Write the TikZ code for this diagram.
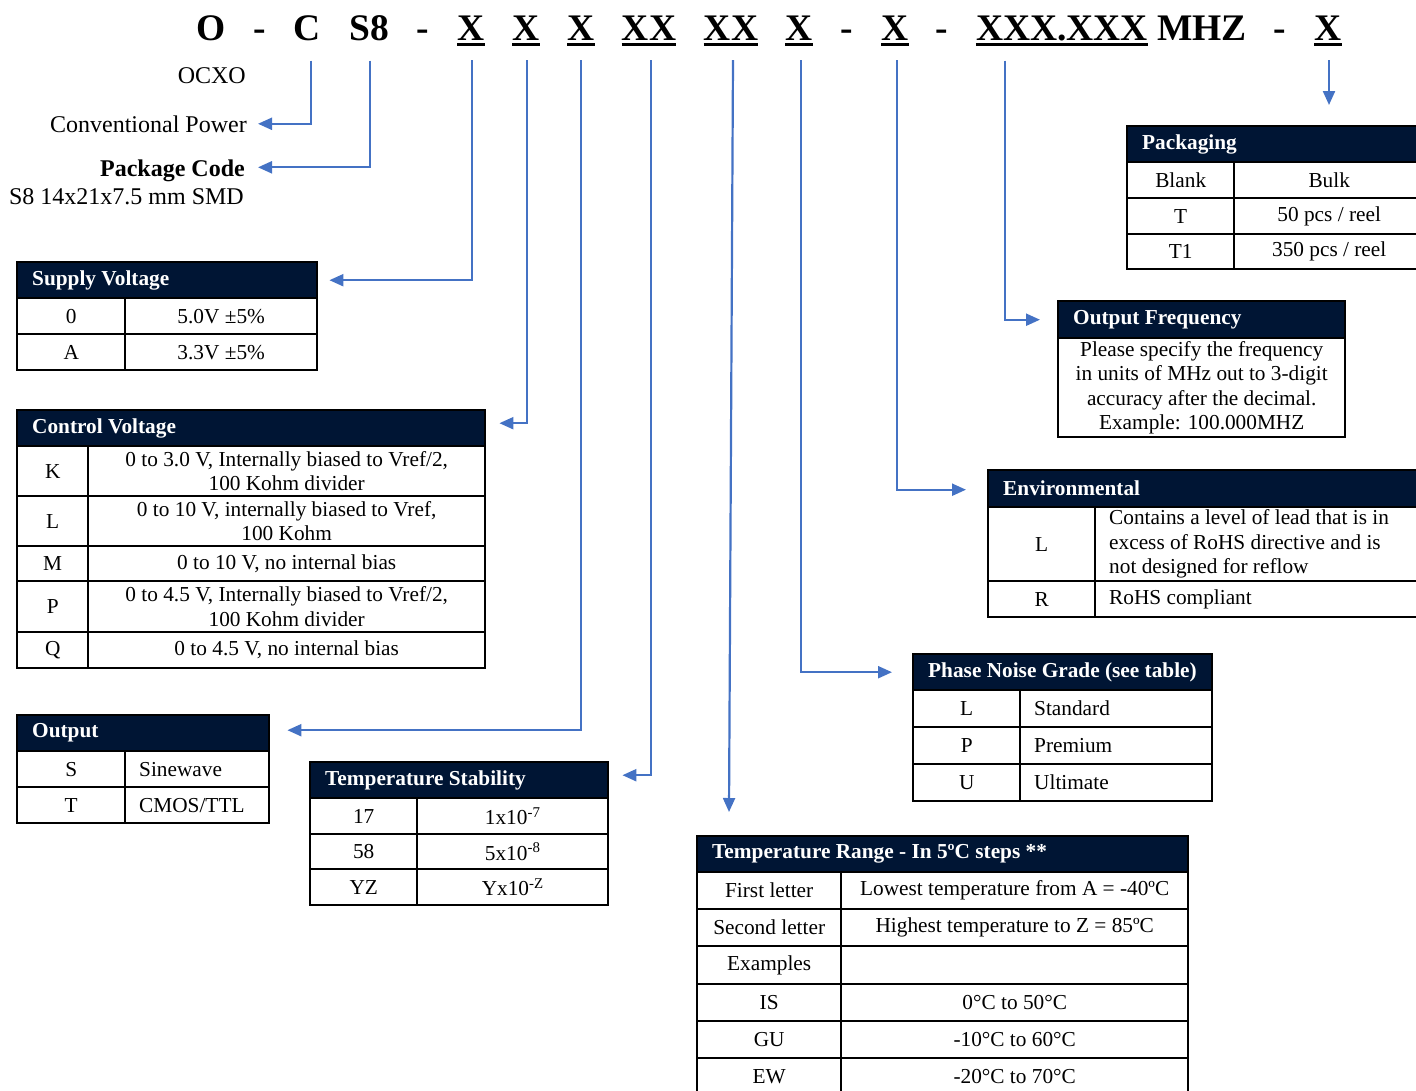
\documentclass[tikz,border=0pt]{standalone}
\usepackage{fontspec}
\setmainfont{Liberation Serif}
\usetikzlibrary{arrows.meta}
\definecolor{headnavy}{RGB}{0,21,52}
\definecolor{linkblue}{RGB}{68,114,196}
\newcommand{\titlefont}{\fontsize{37.5pt}{40pt}\selectfont\bfseries}
\newcommand{\labelfont}{\fontsize{24pt}{28pt}\selectfont}
\newcommand{\hdrfont}{\fontsize{21.3pt}{24pt}\selectfont\bfseries}
\newcommand{\bodyfont}{\fontsize{21.3pt}{24.5pt}\selectfont}

\begin{document}
\begin{tikzpicture}[
    x=1pt, y=-1pt,
    code/.style={font=\titlefont, inner sep=0pt, anchor=base},
    uline/.style={line width=3pt},
    lbl/.style={font=\labelfont, inner sep=0pt, anchor=base east},
    hdr/.style={draw, line width=2.4pt, fill=headnavy, text=white, font=\hdrfont, anchor=north west,
        minimum height=36pt, inner xsep=15pt, inner ysep=0pt, text width=#1, align=flush left},
    cell/.style 2 args={draw, line width=2.4pt, font=\bodyfont, anchor=north west, inner sep=0pt,
        minimum width=#1, minimum height=#2, align=center},
    lcell/.style 2 args={draw, line width=2.4pt, font=\bodyfont, anchor=north west, inner xsep=14pt,
        inner ysep=0pt, text width=#1, minimum height=#2, align=flush left},
    conn/.style={draw=linkblue, line width=2.2pt, -{Triangle[length=14pt,width=12pt]}}
]
    \useasboundingbox (0,0) rectangle (1416,1090);
    \clip (0,0) rectangle (1416,1090);

    % Part number
    \node[code] (tO) at (211,40) {O};
    \node[code] (tD1) at (260,40) {-};
    \node[code] (tC) at (307,40) {C};
    \node[code] (tS8) at (369,40) {S8};
    \node[code] (tD2) at (423,40) {-};
    \node[code] (tV) at (471,40) {X};
    \node[code] (tCV) at (526,40) {X};
    \node[code] (tOut) at (581,40) {X};
    \node[code] (tStab) at (649,40) {XX};
    \node[code] (tRange) at (731,40) {XX};
    \node[code] (tPN) at (799,40) {X};
    \node[code] (tD3) at (847,40) {-};
    \node[code] (tEnv) at (895,40) {X};
    \node[code] (tD4) at (942,40) {-};
    \node[code] (tFreq) at (1062,40) {XXX.XXX};
    \node[code] (tMHZ) at (1202,40) {MHZ};
    \node[code] (tD5) at (1280,40) {-};
    \node[code] (tPack) at (1328,40) {X};

    % Underlines
    \foreach \n in {tV, tCV, tOut, tStab, tRange, tPN, tEnv, tFreq, tPack}
        \draw[uline] ([yshift=-4.5pt]\n.base west) -- ([yshift=-4.5pt]\n.base east);

    % Left labels
    \node[lbl] (ocxo) at (246,83) {OCXO};
    \node[lbl] (conv) at (247,132) {Conventional Power};
    \node[lbl] (pkgcode) at (245,176) {\textbf{Package Code}};
    \node[lbl] (pkgsize) at (244,204) {S8 14x21x7.5 mm SMD};

    % Supply voltage
    \node[hdr=270pt] (supply) at (16,261) {Supply Voltage};
    \node[cell={108pt}{36pt}] (sv0) at (16,297) {0};
    \node[cell={192pt}{36pt}] (sv0v) at (124,297) {5.0V ±5\%};
    \node[cell={108pt}{36pt}] (svA) at (16,333) {A};
    \node[cell={192pt}{36pt}] (svAv) at (124,333) {3.3V ±5\%};

    % Control voltage
    \node[hdr=438pt] (ctrl) at (16,409) {Control Voltage};
    \node[cell={71pt}{50pt}] (cvK) at (16,445) {K};
    \node[cell={397pt}{50pt}] (cvKv) at (87,445) {0 to 3.0 V, Internally biased to Vref/2,\\100 Kohm divider};
    \node[cell={71pt}{50pt}] (cvL) at (16,495) {L};
    \node[cell={397pt}{50pt}] (cvLv) at (87,495) {0 to 10 V, internally biased to Vref,\\100 Kohm};
    \node[cell={71pt}{35pt}] (cvM) at (16,545) {M};
    \node[cell={397pt}{35pt}] (cvMv) at (87,545) {0 to 10 V, no internal bias};
    \node[cell={71pt}{51pt}] (cvP) at (16,580) {P};
    \node[cell={397pt}{51pt}] (cvPv) at (87,580) {0 to 4.5 V, Internally biased to Vref/2,\\100 Kohm divider};
    \node[cell={71pt}{36pt}] (cvQ) at (16,631) {Q};
    \node[cell={397pt}{36pt}] (cvQv) at (87,631) {0 to 4.5 V, no internal bias};

    % Output
    \node[hdr=222pt] (outp) at (16,714) {Output};
    \node[cell={108pt}{36pt}] (opS) at (16,750) {S};
    \node[lcell={116pt}{36pt}] (opSv) at (124,750) {Sinewave};
    \node[cell={108pt}{36pt}] (opT) at (16,786) {T};
    \node[lcell={116pt}{36pt}] (opTv) at (124,786) {CMOS/TTL};

    % Temperature stability
    \node[hdr=268pt] (stab) at (309,761) {Temperature Stability};
    \node[cell={107pt}{36pt}] (ts17) at (309,797) {17};
    \node[cell={191pt}{36pt}] (ts17v) at (416,797) {1x10\textsuperscript{-7}};
    \node[cell={107pt}{35pt}] (ts58) at (309,833) {58};
    \node[cell={191pt}{35pt}] (ts58v) at (416,833) {5x10\textsuperscript{-8}};
    \node[cell={107pt}{36pt}] (tsYZ) at (309,868) {YZ};
    \node[cell={191pt}{36pt}] (tsYZv) at (416,868) {Yx10\textsuperscript{-Z}};

    % Temperature range
    \node[hdr=461pt] (range) at (696,835) {Temperature Range - In 5ºC steps **};
    \node[cell={144pt}{37pt}] (trF) at (696,871) {First letter};
    \node[cell={347pt}{37pt}] (trFv) at (840,871) {Lowest temperature from A = -40ºC};
    \node[cell={144pt}{37pt}] (trS) at (696,908) {Second letter};
    \node[cell={347pt}{37pt}] (trSv) at (840,908) {Highest temperature to Z = 85ºC};
    \node[cell={144pt}{38pt}] (trE) at (696,945) {Examples};
    \node[cell={347pt}{38pt}] (trEv) at (840,945) {};
    \node[cell={144pt}{37pt}] (trIS) at (696,983) {IS};
    \node[cell={347pt}{37pt}] (trISv) at (840,983) {0°C to 50°C};
    \node[cell={144pt}{37pt}] (trGU) at (696,1020) {GU};
    \node[cell={347pt}{37pt}] (trGUv) at (840,1020) {-10°C to 60°C};
    \node[cell={144pt}{37pt}] (trEW) at (696,1057) {EW};
    \node[cell={347pt}{37pt}] (trEWv) at (840,1057) {-20°C to 70°C};

    % Phase noise grade
    \node[hdr=269pt] (pn) at (912,653) {\mbox{Phase Noise Grade (see table)}};
    \node[cell={107pt}{37pt}] (pnL) at (912,689) {L};
    \node[lcell={164pt}{37pt}] (pnLv) at (1019,689) {Standard};
    \node[cell={107pt}{37pt}] (pnP) at (912,726) {P};
    \node[lcell={164pt}{37pt}] (pnPv) at (1019,726) {Premium};
    \node[cell={107pt}{37pt}] (pnU) at (912,763) {U};
    \node[lcell={164pt}{37pt}] (pnUv) at (1019,763) {Ultimate};

    % Environmental
    \node[hdr=423pt, minimum height=37pt] (env) at (987,469) {Environmental};
    \node[cell={107pt}{74pt}] (enL) at (987,506) {L};
    \node[lcell={318pt}{74pt}] (enLv) at (1094,506) {Contains a level of lead that is in\\excess of RoHS directive and is\\not designed for reflow};
    \node[cell={107pt}{36pt}] (enR) at (987,580) {R};
    \node[lcell={318pt}{36pt}] (enRv) at (1094,580) {RoHS compliant};

    % Output frequency
    \node[hdr=257pt, minimum height=37pt] (freq) at (1057,300) {Output Frequency};
    \node[cell={287pt}{99pt}] (freqv) at (1057,337) {Please specify the frequency\\in units of MHz out to 3-digit\\accuracy after the decimal.\\Example: 100.000MHZ};

    % Packaging
    \node[hdr=267pt] (pack) at (1126,125) {Packaging};
    \node[cell={107pt}{36pt}] (pkB) at (1126,161) {Blank};
    \node[cell={190pt}{36pt}] (pkBv) at (1233,161) {Bulk};
    \node[cell={107pt}{36pt}] (pkT) at (1126,197) {T};
    \node[cell={190pt}{36pt}] (pkTv) at (1233,197) {50 pcs / reel};
    \node[cell={107pt}{35pt}] (pkT1) at (1126,233) {T1};
    \node[cell={190pt}{35pt}] (pkT1v) at (1233,233) {350 pcs / reel};

    % Connectors
    \draw[conn] ([xshift=4pt,yshift=-20pt]tC.south) |- ([xshift=11pt]conv.east);
    \draw[conn] ([xshift=1pt,yshift=-20pt]tS8.south) |- ([xshift=13pt,yshift=3pt]pkgcode.east);
    \draw[conn] ([xshift=1pt,yshift=-20pt]tV.south) |- ([xshift=11pt]supply.east);
    \draw[conn] ([xshift=1pt,yshift=-20pt]tCV.south) |- ([xshift=13pt,yshift=5pt]ctrl.east);
    \draw[conn] ([yshift=-20pt]tOut.south) |- ([xshift=17pt,yshift=3pt]outp.east);
    \draw[conn] ([xshift=2pt,yshift=-20pt]tStab.south) |- ([xshift=13pt,yshift=5pt]stab.east);
    \draw[conn] ([xshift=2pt,yshift=-20pt]tRange.south) -- ([xshift=-2pt,yshift=23pt]tRange.south |- range.north);
    \draw[conn] ([xshift=2pt,yshift=-20pt]tPN.south) |- ([xshift=-20pt]pn.west);
    \draw[conn] ([xshift=2pt,yshift=-20pt]tEnv.south) |- ([xshift=-21pt,yshift=-1pt]env.west);
    \draw[conn] ([xshift=-57pt,yshift=-20pt]tFreq.south) |- ([xshift=-17pt]freq.west);
    \draw[conn] ([xshift=1pt,yshift=-20pt]tPack.south) -- ([xshift=1pt,yshift=20pt]tPack.south |- pack.north);
\end{tikzpicture}
\end{document}
